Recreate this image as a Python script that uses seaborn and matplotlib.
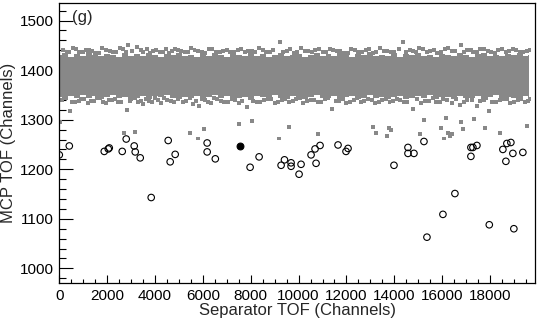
import matplotlib
matplotlib.use("Agg")
import matplotlib.pyplot as plt
from matplotlib.ticker import MultipleLocator
import seaborn as sns
import pandas as pd

# ---- data ----
# dense band core: jagged edges of the solid grey region
band_x = [0, 250, 500, 750, 1000, 1250, 1500, 1750, 2000, 2250, 2500, 2750, 3000, 3250,
          3500, 3750, 4000, 4250, 4500, 4750, 5000, 5250, 5500, 5750, 6000, 6250, 6500,
          6750, 7000, 7250, 7500, 7750, 8000, 8250, 8500, 8750, 9000, 9250, 9500, 9750,
          10000, 10250, 10500, 10750, 11000, 11250, 11500, 11750, 12000, 12250, 12500,
          12750, 13000, 13250, 13500, 13750, 14000, 14250, 14500, 14750, 15000, 15250,
          15500, 15750, 16000, 16250, 16500, 16750, 17000, 17250, 17500, 17750, 18000,
          18250, 18500, 18750, 19000, 19250, 19500, 19640]
band_top = [1430, 1434, 1427, 1432, 1429, 1436, 1431, 1428, 1433, 1430, 1426, 1435, 1429,
            1432, 1428, 1434, 1431, 1427, 1433, 1430, 1435, 1428, 1431, 1426, 1432, 1429,
            1434, 1430, 1427, 1433, 1431, 1428, 1435, 1429, 1432, 1426, 1430, 1434, 1428,
            1431, 1433, 1427, 1430, 1435, 1429, 1432, 1428, 1434, 1431, 1426, 1433, 1430,
            1436, 1428, 1431, 1429, 1434, 1427, 1432, 1430, 1435, 1429, 1431, 1427, 1433,
            1430, 1428, 1434, 1431, 1426, 1432, 1435, 1429, 1431, 1428, 1433, 1430, 1434,
            1429, 1431]
band_bot = [1346, 1342, 1348, 1344, 1350, 1343, 1347, 1341, 1345, 1349, 1343, 1346, 1340,
            1344, 1348, 1342, 1347, 1345, 1350, 1343, 1341, 1346, 1344, 1348, 1342, 1345,
            1349, 1343, 1347, 1341, 1344, 1346, 1342, 1348, 1345, 1343, 1350, 1344, 1341,
            1347, 1345, 1342, 1346, 1349, 1343, 1344, 1348, 1341, 1345, 1347, 1342, 1344,
            1349, 1343, 1346, 1341, 1345, 1348, 1342, 1344, 1347, 1343, 1349, 1341, 1345,
            1346, 1342, 1348, 1344, 1343, 1347, 1341, 1345, 1349, 1342, 1346, 1344, 1343,
            1347, 1345]

# grey points above the solid core
upper_speckle = [
    (150, 1440), (420, 1436), (700, 1443), (980, 1437), (1250, 1441), (1500, 1435),
    (1800, 1444), (2100, 1438), (2380, 1436), (2650, 1442), (2868, 1450), (3257, 1446),
    (3500, 1437), (3674, 1442), (3900, 1439), (4200, 1436), (4450, 1443), (4700, 1438),
    (4950, 1441), (5250, 1436), (5500, 1444), (5800, 1439), (6100, 1435), (6400, 1442),
    (6700, 1437), (7000, 1440), (7300, 1436), (7600, 1443), (7900, 1438), (8200, 1437),
    (8500, 1441), (8800, 1437), (9227, 1456), (9500, 1439), (9800, 1435), (10100, 1444),
    (10400, 1438), (10700, 1441), (11000, 1436), (11300, 1443), (11600, 1439),
    (11900, 1435), (12200, 1442), (12500, 1437), (12800, 1440), (13100, 1435),
    (13400, 1444), (13700, 1439), (14000, 1436), (14362, 1456), (14650, 1441),
    (14900, 1437), (15200, 1443), (15500, 1439), (15800, 1435), (16100, 1442),
    (16400, 1438), (16784, 1451), (17050, 1440), (17300, 1436), (17600, 1443),
    (17900, 1439), (18200, 1435), (18500, 1442), (18800, 1438), (19100, 1441),
    (19400, 1437), (19650, 1440),
    (300, 1437), (560, 1445), (840, 1436), (1120, 1440), (1380, 1438), (1650, 1435),
    (1950, 1441), (2250, 1437), (2520, 1444), (2780, 1436), (3050, 1439), (3400, 1441),
    (3800, 1435), (4050, 1440), (4330, 1437), (4580, 1435), (4820, 1442), (5100, 1438),
    (5380, 1436), (5650, 1440), (5950, 1437), (6250, 1443), (6550, 1436), (6850, 1439),
    (7150, 1437), (7450, 1441), (7750, 1436), (8050, 1439), (8350, 1444), (8650, 1436),
    (8950, 1440), (9350, 1437), (9650, 1442), (9950, 1436), (10250, 1439),
    (10550, 1437), (10850, 1443), (11150, 1436), (11450, 1440), (11750, 1438),
    (12050, 1435), (12350, 1441), (12650, 1437), (12950, 1443), (13250, 1436),
    (13550, 1439), (13850, 1437), (14200, 1442), (14500, 1436), (14780, 1439),
    (15050, 1445), (15350, 1437), (15650, 1441), (15950, 1436), (16250, 1444),
    (16550, 1438), (16900, 1436), (17200, 1441), (17450, 1437), (17750, 1443),
    (18050, 1436), (18350, 1440), (18650, 1437), (18950, 1442), (19250, 1436),
    (19550, 1439),
]

# grey points below the solid core
lower_speckle = [
    (100, 1339), (459, 1317), (650, 1335), (822, 1338), (1050, 1341), (1211, 1333),
    (1450, 1337), (1700, 1343), (1950, 1334), (2200, 1340), (2450, 1336), (2826, 1319),
    (3000, 1341), (3300, 1335), (3507, 1332), (3750, 1338), (4000, 1343), (4250, 1334),
    (4500, 1340), (4800, 1336), (5152, 1335), (5594, 1332), (5845, 1327), (6100, 1339),
    (6350, 1334), (6600, 1341), (6900, 1336), (7200, 1342), (7500, 1333), (7849, 1325),
    (8100, 1338), (8400, 1335), (8700, 1341), (9000, 1334), (9300, 1339), (9600, 1336),
    (9900, 1342), (10200, 1333), (10500, 1339), (10800, 1335), (11100, 1341),
    (11398, 1321), (11700, 1337), (12000, 1334), (12300, 1340), (12600, 1336),
    (12900, 1342), (13200, 1333), (13500, 1339), (13800, 1335), (14100, 1341),
    (14400, 1336), (14780, 1321), (15130, 1333), (15450, 1338), (15750, 1335),
    (16050, 1341), (16400, 1334), (16758, 1330), (17050, 1339), (17468, 1328),
    (17750, 1340), (17953, 1317), (18250, 1336), (18550, 1342), (18850, 1333),
    (19150, 1339), (19450, 1335), (19650, 1341),
    (280, 1343), (540, 1336), (900, 1341), (1330, 1338), (1580, 1344), (1830, 1336),
    (2080, 1339), (2330, 1342), (2600, 1335), (2950, 1338), (3150, 1344), (3420, 1337),
    (3620, 1341), (3880, 1335), (4130, 1339), (4380, 1343), (4650, 1337), (4950, 1341),
    (5300, 1338), (5480, 1344), (5720, 1337), (5980, 1341), (6230, 1336), (6480, 1343),
    (6750, 1338), (7050, 1335), (7350, 1340), (7650, 1337), (7980, 1343), (8250, 1336),
    (8550, 1339), (8850, 1342), (9150, 1336), (9450, 1341), (9750, 1338),
    (10050, 1344), (10350, 1337), (10650, 1340), (10950, 1336), (11250, 1343),
    (11550, 1338), (11850, 1341), (12150, 1336), (12450, 1343), (12750, 1338),
    (13050, 1340), (13350, 1336), (13650, 1342), (13950, 1337), (14250, 1340),
    (14550, 1335), (14950, 1341), (15300, 1337), (15600, 1343), (15900, 1336),
    (16200, 1339), (16580, 1342), (16900, 1336), (17250, 1340), (17600, 1337),
    (17850, 1343), (18100, 1336), (18400, 1339), (18700, 1341), (19000, 1336),
    (19300, 1342), (19600, 1338),
]

# isolated grey points between band and circles
outliers = [
    (40, 1295), (2714, 1273), (3173, 1275), (5469, 1273), (5778, 1262), (6054, 1281),
    (7515, 1291), (8058, 1298), (9185, 1262), (9603, 1285), (10813, 1271),
    (13110, 1286), (13250, 1274), (13694, 1268), (13765, 1284), (13848, 1279),
    (15072, 1271), (15227, 1300), (15965, 1283), (16074, 1262), (16145, 1303),
    (16228, 1274), (16312, 1268), (16408, 1272), (16800, 1296), (16867, 1281),
    (17327, 1301), (17786, 1283), (18412, 1273), (19539, 1287),
]

# open circles
open_x = [0, 418, 1879, 2046, 2088, 2630, 2797, 3131, 3173, 3382, 3841, 4551, 4634,
          4843, 6179, 6179, 6520, 7974, 8350, 9269, 9410, 9686, 9686, 10103, 10020,
          10521, 10688, 10897, 10730, 11648, 11982, 12066, 13986, 14571, 14571, 14821,
          15239, 17201, 17285, 17452, 17201, 18537, 18704, 18871, 18955, 18663, 19372,
          16533, 16032, 15364, 17969, 18996]
open_y = [1229, 1247, 1236, 1241, 1243, 1236, 1261, 1247, 1235, 1223, 1143, 1258, 1215,
          1230, 1253, 1235, 1221, 1204, 1225, 1208, 1219, 1213, 1206, 1210, 1190,
          1229, 1241, 1248, 1212, 1249, 1236, 1242, 1208, 1244, 1232, 1232,
          1256, 1244, 1244, 1248, 1226, 1240, 1252, 1254, 1232, 1216, 1234,
          1151, 1109, 1063, 1088, 1080]

# filled circle
filled_x = [7544]
filled_y = [1247]

x_label = "Separator TOF (Channels)"
y_label = "MCP TOF (Channels)"
panel_label = "(g)"

# ---- plot ----
sns.set_style("ticks")
plt.rcParams["font.family"] = ["Liberation Sans", "DejaVu Sans"]

fig = plt.figure(figsize=(5.39, 3.19), dpi=100)
ax = fig.add_axes([0.110, 0.112, 0.8826, 0.8796])

grey = "#888888"
ax.fill_between(band_x, band_bot, band_top, step="mid", color=grey, lw=0, zorder=1)

grey_pts = upper_speckle + lower_speckle + outliers
grey_df = pd.DataFrame(grey_pts, columns=["x", "y"])
sns.scatterplot(data=grey_df, x="x", y="y", ax=ax, marker="s", s=8,
                color=grey, edgecolor="none", linewidth=0, zorder=2)

open_df = pd.DataFrame({"x": open_x, "y": open_y})
sns.scatterplot(data=open_df, x="x", y="y", ax=ax, marker="o", s=22,
                facecolor="none", edgecolor="black", linewidth=0.8, zorder=3)

filled_df = pd.DataFrame({"x": filled_x, "y": filled_y})
sns.scatterplot(data=filled_df, x="x", y="y", ax=ax, marker="o", s=24,
                color="black", edgecolor="black", linewidth=0.8, zorder=4)

ax.set_xlim(0, 19880)
ax.set_ylim(970, 1536)
ax.xaxis.set_major_locator(MultipleLocator(2000))
ax.xaxis.set_minor_locator(MultipleLocator(500))
ax.yaxis.set_major_locator(MultipleLocator(100))
ax.yaxis.set_minor_locator(MultipleLocator(20))

ax.tick_params(axis="both", which="both", direction="in", width=0.8,
               labelsize=11, colors="black")
ax.tick_params(axis="y", which="major", length=10, pad=4)
ax.tick_params(axis="y", which="minor", length=5)
ax.tick_params(axis="x", which="major", length=6, pad=4)
ax.tick_params(axis="x", which="minor", length=3)

for sp in ax.spines.values():
    sp.set_visible(True)
    sp.set_linewidth(0.9)
    sp.set_color("black")

ax.set_xlabel(x_label, fontsize=12, labelpad=0)
ax.set_ylabel(y_label, fontsize=12, labelpad=3)
ax.text(0.027, 0.975, panel_label, transform=ax.transAxes, fontsize=12,
        ha="left", va="top")

fig.savefig("out.png", dpi=100)
